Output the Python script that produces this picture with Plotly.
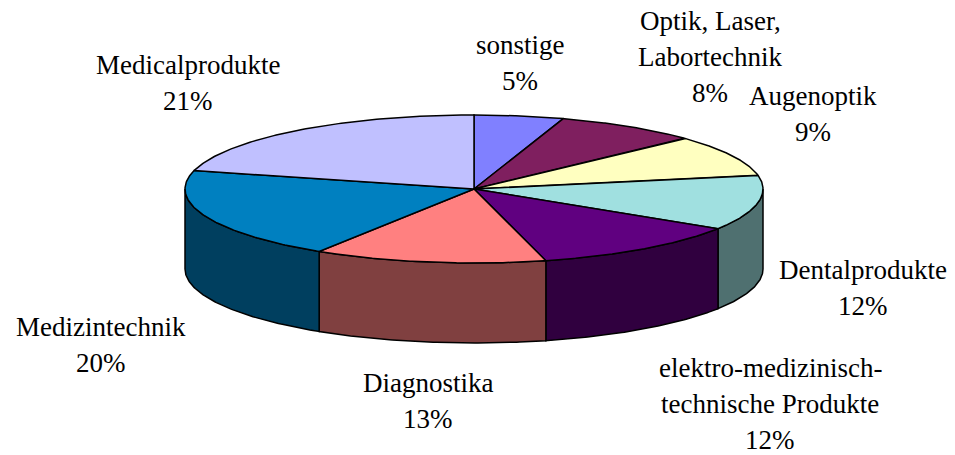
import numpy as np
import plotly.graph_objects as go

# ---- data ----
labels = ["sonstige", "Optik, Laser, Labortechnik", "Augenoptik", "Dentalprodukte",
          "elektro-medizinisch-technische Produkte", "Diagnostika", "Medizintechnik",
          "Medicalprodukte"]
values = [5, 8, 9, 12, 12, 13, 20, 21]
label_lines = [["sonstige", "5%"],
               ["Optik, Laser,", "Labortechnik", "8%"],
               ["Augenoptik", "9%"],
               ["Dentalprodukte", "12%"],
               ["elektro-medizinisch-", "technische Produkte", "12%"],
               ["Diagnostika", "13%"],
               ["Medizintechnik", "20%"],
               ["Medicalprodukte", "21%"]]

# ---- style ----
top_colors = ["#8080FF", "#7F1F5F", "#FFFFC0", "#A0E0E0", "#600080", "#FF8080", "#0080C0", "#C0C0FF"]
side_colors = ["#404080", "#40102F", "#808060", "#4F7070", "#30003F", "#804040", "#003F5F", "#606080"]
label_anchor = [(520, 45), (710, 21), (813, 96), (863, 270), (770, 368), (428, 383), (101, 327), (188, 65)]
line_gap = 36
cx, cy, rx, ry, depth = 474, 189, 289, 74, 80

W, H = 955, 455
fig = go.Figure()

total = sum(values)
bounds = np.concatenate([[0], np.cumsum(values)]) / total * 2 * np.pi


def ex(t):
    return cx + rx * np.sin(t)


def ey(t):
    return cy - ry * np.cos(t)


# side walls (front half: theta in [pi/2, 3pi/2])
for i in range(len(values)):
    a, b = bounds[i], bounds[i + 1]
    lo, hi = max(a, np.pi / 2), min(b, 3 * np.pi / 2)
    if hi <= lo:
        continue
    t = np.linspace(lo, hi, 80)
    xs = np.concatenate([ex(t), ex(t[::-1])])
    ys = np.concatenate([ey(t), ey(t[::-1]) + depth])
    xs = np.append(xs, xs[0])
    ys = np.append(ys, ys[0])
    fig.add_trace(go.Scatter(x=xs, y=ys, mode="lines", fill="toself",
                             fillcolor=side_colors[i], line=dict(color="black", width=1.5),
                             hoverinfo="skip", showlegend=False))

# top faces
for i in range(len(values)):
    a, b = bounds[i], bounds[i + 1]
    t = np.linspace(a, b, 120)
    xs = np.concatenate([[cx], ex(t), [cx]])
    ys = np.concatenate([[cy], ey(t), [cy]])
    fig.add_trace(go.Scatter(x=xs, y=ys, mode="lines", fill="toself",
                             fillcolor=top_colors[i], line=dict(color="black", width=1.5),
                             hoverinfo="skip", showlegend=False))

annotations = []
for lines, (lx, ly) in zip(label_lines, label_anchor):
    for k, txt in enumerate(lines):
        annotations.append(dict(x=lx, y=ly + k * line_gap, text=txt, showarrow=False,
                                xanchor="center", yanchor="middle", borderpad=0,
                                font=dict(family="Liberation Serif, Times New Roman, serif",
                                          size=27, color="black")))

fig.update_layout(
    width=W, height=H, margin=dict(l=0, r=0, t=0, b=0),
    paper_bgcolor="white", plot_bgcolor="white",
    xaxis=dict(range=[0, W], visible=False, fixedrange=True),
    yaxis=dict(range=[H, 0], visible=False, fixedrange=True),
    annotations=annotations,
)
fig.write_html("out.html", config={"displayModeBar": False},
               post_script="document.body.style.margin='0';document.body.style.overflow='hidden';")
